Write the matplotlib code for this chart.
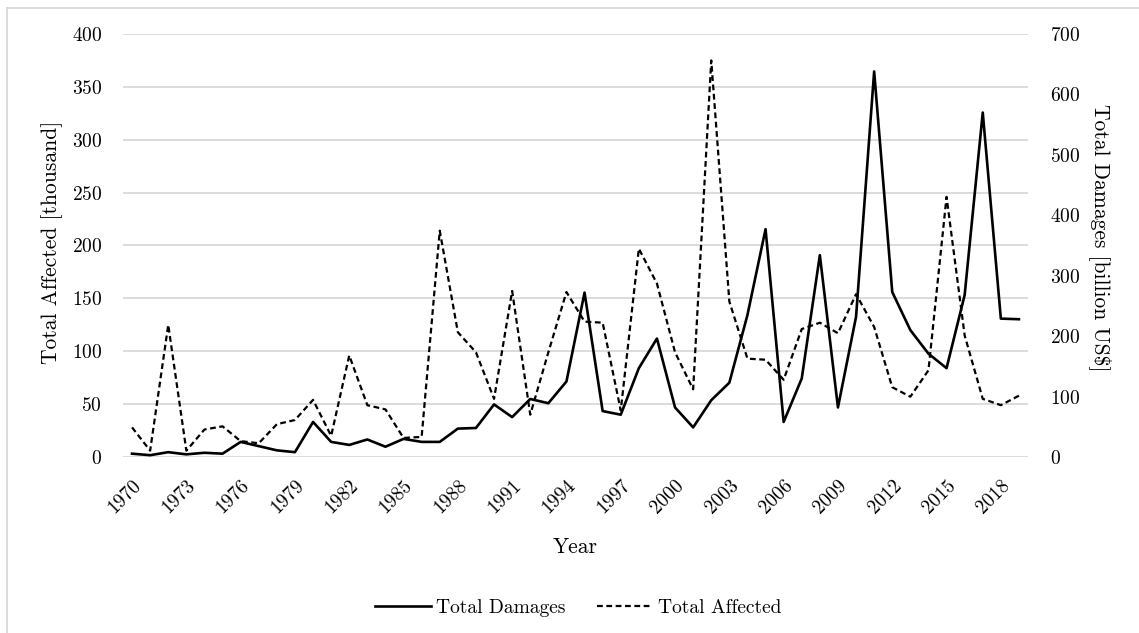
import matplotlib
matplotlib.use("Agg")
import matplotlib.pyplot as plt
from matplotlib.lines import Line2D

plt.rcParams['font.family'] = ['cmr10', 'DejaVu Serif']
plt.rcParams['axes.formatter.use_mathtext'] = True
plt.rcParams['mathtext.fontset'] = 'cm'

# data
years = list(range(1970, 2020))
affected = [28, 6, 125, 6, 26, 29, 15, 13, 31, 35,
            54, 20, 96, 49, 45, 18, 19, 214, 118, 99,
            55, 157, 40, 99, 156, 128, 127, 44, 197, 164,
            99, 64, 375, 147, 93, 92, 73, 121, 127, 117,
            154, 123, 66, 57, 82, 246, 115, 55, 49, 58]
damages = [5.5, 3, 8, 4.4, 7, 5.5, 25, 18, 11, 8,
           58, 25, 20, 29, 17, 30, 25, 25, 47, 48,
           87, 66, 96, 89, 125, 272, 76, 70, 147, 196,
           82, 49, 94, 123, 235, 377, 58, 130, 334, 82,
           232, 638, 273, 210, 171, 147, 268, 570, 229, 228]
left_ticks = [0, 50, 100, 150, 200, 250, 300, 350, 400]
right_ticks = [0, 100, 200, 300, 400, 500, 600, 700]

W, H = 1139, 633
fig = plt.figure(figsize=(W / 100, H / 100), dpi=100)
ax = fig.add_axes([123 / W, 1 - 457 / H, (1028 - 123) / W, (457 - 34) / H])
ax2 = ax.twinx()

dash = (0, (2.6, 1.6))
x = list(range(len(years)))
ax.plot(x, affected, color='black', lw=1.6, ls=dash, zorder=3)
ax2.plot(x, damages, color='black', lw=1.9, zorder=3)

ax.set_xlim(-0.5, len(years) - 0.5)
ax.set_ylim(0, 400)
ax2.set_ylim(0, 700)
ax.set_yticks(left_ticks)
ax2.set_yticks(right_ticks)
ax.yaxis.grid(True, color='#d9d9d9', lw=1.3)
ax.set_axisbelow(True)

ax.set_xticks(x[::3])
ax.set_xticklabels([str(y) for y in years[::3]], rotation=45, ha='right',
                   va='top', rotation_mode='anchor')

for a in (ax, ax2):
    for s in a.spines.values():
        s.set_visible(False)
    a.tick_params(length=0, labelsize=14)
ax.tick_params(axis='y', pad=15)
ax.tick_params(axis='x', pad=14)
ax2.tick_params(axis='y', pad=16)

fig.text(575 / W, 1 - 547 / H, 'Year', fontsize=15.5, ha='center', va='center')
fig.text(52 / W, 1 - 242 / H, 'Total Affected [thousand]', fontsize=15.5,
         rotation=90, ha='center', va='center')
fig.text(1100 / W, 1 - 238 / H, 'Total Damages [billion US$]', fontsize=15.5,
         rotation=-90, ha='center', va='center')

handles = [Line2D([], [], color='black', lw=1.9),
           Line2D([], [], color='black', lw=1.6, ls=dash)]
fig.legend(handles, ['Total Damages', 'Total Affected'], loc='center',
           bbox_to_anchor=(578 / W, 1 - 608 / H), ncol=2, frameon=False,
           fontsize=14, handlelength=2.9, handletextpad=0.25, columnspacing=1.6,
           borderpad=0)

# chart border
fig.add_artist(Line2D([7 / W, 7 / W], [0, 1 - 8 / H], color='#d9d9d9',
                      lw=1.3, transform=fig.transFigure))
fig.add_artist(Line2D([7 / W, 1], [1 - 8 / H, 1 - 8 / H], color='#d9d9d9',
                      lw=1.3, transform=fig.transFigure))

fig.savefig('out.png', dpi=100)
